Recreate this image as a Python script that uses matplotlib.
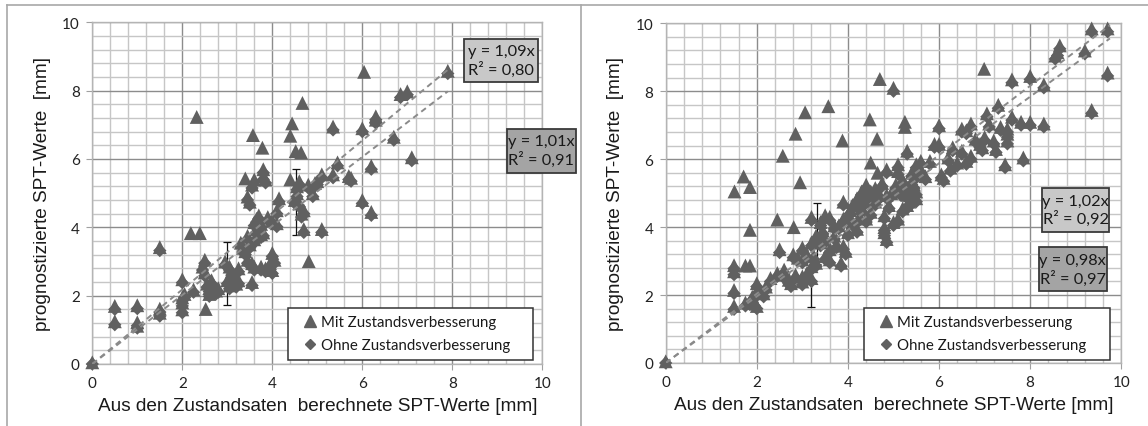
import matplotlib
matplotlib.use("Agg")
import matplotlib.pyplot as plt
from matplotlib.lines import Line2D
from matplotlib.patches import Rectangle
import numpy as np

# ---------------- data ----------------
x_ticks = [0, 2, 4, 6, 8, 10]
y_ticks = [0, 2, 4, 6, 8, 10]
series_names = ["Mit Zustandsverbesserung", "Ohne Zustandsverbesserung"]

# Left panel: "Mit Zustandsverbesserung" (triangles)
left_mit = [
    (0, 0.05), (0.5, 1.7), (0.5, 1.25), (1.0, 1.72), (1.0, 1.22), (1.0, 1.12),
    (1.5, 3.42), (1.5, 1.62), (1.5, 1.5), (2.0, 2.48), (2.0, 1.95), (2.0, 1.8),
    (2.0, 1.6), (2.05, 2.05), (2.25, 2.18), (2.5, 3.05), (2.45, 2.85), (2.5, 2.68),
    (2.55, 2.35), (2.6, 2.22), (2.7, 2.3), (2.75, 2.15), (2.65, 2.45), (2.8, 2.22),
    (2.95, 3.0), (3.05, 2.85), (3.1, 2.7), (3.0, 2.45), (3.2, 2.35), (3.15, 2.6),
    (3.25, 2.8), (3.05, 2.3), (3.45, 3.75), (3.5, 3.5), (3.4, 3.3), (3.45, 3.05),
    (3.55, 2.95), (3.6, 2.85), (3.55, 2.4), (3.55, 5.25), (3.45, 4.9), (3.5, 4.75),
    (3.7, 4.35), (3.6, 4.15), (3.7, 3.95), (3.75, 3.8), (3.6, 3.65), (3.8, 3.85),
    (3.65, 4.25), (3.75, 4.1), (3.8, 5.7), (3.8, 5.5), (3.85, 5.4), (3.75, 2.85),
    (3.85, 2.8), (4.0, 2.75), (3.95, 2.95), (4.0, 3.25), (4.05, 3.05), (4.0, 4.2),
    (4.1, 4.12), (4.1, 4.5), (4.15, 4.85), (4.55, 5.2), (4.55, 5.0), (4.5, 4.8),
    (4.6, 4.7), (4.7, 4.5), (4.65, 4.4), (4.6, 5.35), (4.7, 3.95), (4.8, 5.25),
    (4.9, 5.0), (4.95, 5.3), (5.0, 5.35), (5.1, 3.95), (5.1, 5.55), (5.35, 5.55),
    (5.45, 5.9), (5.7, 5.5), (5.75, 5.45), (5.35, 6.95), (6.0, 6.9), (6.3, 7.15),
    (6.3, 7.25), (6.0, 4.8), (6.2, 4.45), (6.2, 5.8), (6.7, 6.65), (6.85, 7.9),
    (7.0, 7.98), (7.1, 6.05), (7.9, 8.58),
    (3.3, 3.55), (3.35, 3.4), (3.65, 3.95), (3.9, 4.3), (2.6, 2.05), (3.25, 2.45),
    (2.32, 7.23), (6.04, 8.55), (4.67, 7.64), (4.44, 7.04), (4.4, 6.68), (3.57, 6.7),
    (3.78, 6.33), (4.52, 6.23), (4.64, 6.19), (2.19, 3.83), (2.39, 3.83), (4.81, 3.01),
    (2.52, 1.61), (3.4, 5.43), (3.6, 5.4), (4.4, 5.4),
]
# Left panel: "Ohne Zustandsverbesserung" (diamonds)
left_ohne = [
    (0, 0.0), (0.5, 1.6), (0.5, 1.15), (1.0, 1.62), (1.0, 1.12), (1.0, 1.05),
    (1.5, 3.32), (1.5, 1.52), (1.5, 1.4), (2.0, 2.38), (2.0, 1.85), (2.0, 1.7),
    (2.0, 1.5), (2.05, 1.95), (2.25, 2.1), (2.5, 2.95), (2.45, 2.75), (2.5, 2.58),
    (2.55, 2.25), (2.6, 2.12), (2.7, 2.2), (2.75, 2.05), (2.65, 2.35), (2.8, 2.1),
    (2.95, 2.9), (3.05, 2.75), (3.1, 2.6), (3.0, 2.35), (3.2, 2.25), (3.15, 2.5),
    (3.25, 2.7), (3.05, 2.2), (3.45, 3.65), (3.5, 3.4), (3.4, 3.2), (3.45, 2.95),
    (3.55, 2.85), (3.6, 2.75), (3.55, 2.3), (3.55, 5.15), (3.45, 4.8), (3.5, 4.65),
    (3.7, 4.25), (3.6, 4.05), (3.7, 3.85), (3.75, 3.7), (3.6, 3.55), (3.8, 3.75),
    (3.65, 4.15), (3.75, 4.0), (3.8, 5.6), (3.8, 5.4), (3.85, 5.3), (3.75, 2.75),
    (3.85, 2.7), (4.0, 2.65), (3.95, 2.85), (4.0, 3.15), (4.05, 2.95), (4.0, 4.1),
    (4.1, 4.02), (4.1, 4.4), (4.15, 4.75), (4.55, 5.1), (4.55, 4.9), (4.5, 4.7),
    (4.6, 4.6), (4.7, 4.4), (4.65, 4.3), (4.6, 5.25), (4.7, 3.85), (4.8, 5.15),
    (4.9, 4.9), (4.95, 5.2), (5.0, 5.25), (5.1, 3.85), (5.1, 5.45), (5.35, 5.45),
    (5.45, 5.8), (5.7, 5.4), (5.75, 5.35), (5.35, 6.85), (6.0, 6.8), (6.3, 7.05),
    (6.3, 7.15), (6.0, 4.7), (6.2, 4.35), (6.2, 5.7), (6.7, 6.55), (6.85, 7.8),
    (7.0, 7.88), (7.1, 5.95), (7.9, 8.5),
    (3.3, 3.45), (3.35, 3.3), (3.65, 3.85), (3.9, 4.2), (2.6, 1.98), (3.25, 2.35),
]
# Right panel: "Mit Zustandsverbesserung"
right_mit = [
    (0, 0.05), (1.5, 2.88), (1.5, 2.7), (1.5, 2.15), (1.5, 1.68), (1.75, 1.78),
    (1.85, 1.82), (1.95, 1.78), (2.0, 1.68), (2.0, 2.35), (2.0, 2.1), (2.05, 2.2),
    (1.9, 1.95), (2.2, 2.25), (2.15, 2.05), (2.3, 2.5), (2.5, 3.35), (2.45, 2.65),
    (2.6, 2.6), (2.7, 2.45), (2.75, 2.35), (2.8, 3.2), (2.9, 3.1), (3.0, 3.05),
    (3.0, 2.55), (3.0, 2.4), (3.1, 2.65), (3.2, 2.5), (3.2, 4.3), (3.0, 3.4),
    (3.2, 3.55), (3.3, 3.75), (3.1, 3.2), (3.25, 3.15), (3.3, 2.95), (3.2, 2.85),
    (3.4, 4.15), (3.5, 4.35), (3.6, 4.3), (3.5, 3.65), (3.6, 3.35), (3.5, 3.15),
    (3.6, 3.05), (3.7, 3.75), (3.8, 4.05), (3.9, 4.75), (3.9, 4.25), (3.9, 3.45),
    (3.95, 3.3), (3.85, 2.95), (4.0, 4.35), (4.1, 4.15), (4.1, 4.65), (4.2, 4.85),
    (4.3, 4.55), (4.3, 5.05), (4.4, 5.25), (4.5, 5.05), (4.6, 4.75), (4.7, 4.95),
    (4.85, 4.95), (4.85, 5.7), (4.9, 4.65), (4.0, 3.85), (4.2, 3.95), (4.4, 4.25),
    (4.5, 4.45), (4.8, 4.35), (4.8, 3.85), (4.85, 3.65), (4.8, 4.0), (5.0, 4.15),
    (5.1, 4.25), (5.2, 4.55), (5.3, 4.65), (5.3, 4.95), (5.5, 4.85), (5.5, 5.05),
    (5.0, 8.1), (5.1, 5.85), (5.1, 5.65), (5.2, 5.4), (5.3, 5.15), (5.4, 5.35),
    (5.5, 5.55), (5.3, 6.25), (5.5, 5.85), (5.6, 5.95), (5.8, 5.95), (5.9, 6.45),
    (6.0, 6.45), (6.0, 7.0), (6.05, 5.55), (6.1, 5.45), (6.3, 6.35), (6.4, 5.9),
    (6.5, 6.25), (6.5, 6.9), (6.6, 6.85), (6.6, 5.95), (6.7, 6.1), (6.7, 7.05),
    (6.9, 6.45), (6.95, 6.35), (7.0, 6.65), (7.05, 7.35), (7.1, 7.05), (7.2, 6.55),
    (7.25, 6.3), (7.3, 7.6), (7.45, 5.85), (7.5, 6.55), (7.5, 6.75), (7.5, 6.9),
    (7.6, 7.25), (7.8, 7.1), (8.0, 7.1), (8.3, 7.05), (7.85, 6.05), (7.6, 8.35),
    (8.0, 8.45), (8.3, 8.2), (8.55, 9.05), (8.65, 9.35), (8.6, 9.15), (9.2, 9.2),
    (9.35, 9.85), (9.7, 9.85), (9.7, 8.55), (9.35, 7.45),
    (2.6, 2.75), (2.85, 2.6), (3.4, 3.55), (3.45, 3.9), (3.7, 4.05), (3.75, 3.5),
    (4.05, 4.5), (4.25, 4.3), (4.35, 4.75), (4.45, 4.95), (4.6, 5.15), (4.75, 5.3),
    (4.95, 5.0), (5.05, 5.25), (5.15, 5.05), (5.4, 5.6), (5.6, 5.7), (5.7, 5.5),
    (5.35, 4.75), (5.45, 5.25), (6.2, 6.05), (6.25, 5.75), (6.8, 6.6), (7.35, 6.95),
    (1.51, 5.05), (1.71, 5.49), (1.85, 5.18), (1.85, 3.92), (1.75, 2.87), (1.85, 2.87),
    (2.45, 4.22), (2.57, 6.1), (2.81, 4.0), (2.85, 6.75), (2.95, 5.32), (3.06, 7.38),
    (3.57, 7.56), (3.88, 6.55), (4.7, 8.36), (4.48, 7.17), (4.64, 6.6), (5.25, 7.1),
    (5.25, 6.95), (6.99, 8.66), (4.5, 5.9), (4.65, 5.6),
]
# Right panel: "Ohne Zustandsverbesserung"
right_ohne = [
    (0, 0.0), (1.5, 2.78), (1.5, 2.6), (1.5, 2.05), (1.5, 1.58), (1.75, 1.68),
    (1.85, 1.72), (1.95, 1.68), (2.0, 1.6), (2.0, 2.25), (2.0, 2.0), (2.05, 2.1),
    (1.9, 1.85), (2.2, 2.15), (2.15, 1.95), (2.3, 2.4), (2.5, 3.25), (2.45, 2.55),
    (2.6, 2.5), (2.7, 2.35), (2.75, 2.25), (2.8, 3.1), (2.9, 3.0), (3.0, 2.95),
    (3.0, 2.45), (3.0, 2.3), (3.1, 2.55), (3.2, 2.4), (3.2, 4.2), (3.0, 3.3),
    (3.2, 3.45), (3.3, 3.65), (3.1, 3.1), (3.25, 3.05), (3.3, 2.85), (3.2, 2.75),
    (3.4, 4.05), (3.5, 4.25), (3.6, 4.2), (3.5, 3.55), (3.6, 3.25), (3.5, 3.05),
    (3.6, 2.95), (3.7, 3.65), (3.8, 3.95), (3.9, 4.65), (3.9, 4.15), (3.9, 3.35),
    (3.95, 3.2), (3.85, 2.85), (4.0, 4.25), (4.1, 4.05), (4.1, 4.55), (4.2, 4.75),
    (4.3, 4.45), (4.3, 4.95), (4.4, 5.15), (4.5, 4.95), (4.6, 4.65), (4.7, 4.85),
    (4.85, 4.85), (4.85, 5.6), (4.9, 4.55), (4.0, 3.75), (4.2, 3.85), (4.4, 4.15),
    (4.5, 4.35), (4.8, 4.25), (4.8, 3.75), (4.85, 3.55), (4.8, 3.9), (5.0, 4.05),
    (5.1, 4.15), (5.2, 4.45), (5.3, 4.55), (5.3, 4.85), (5.5, 4.75), (5.5, 4.95),
    (5.0, 8.0), (5.1, 5.75), (5.1, 5.55), (5.2, 5.3), (5.3, 5.05), (5.4, 5.25),
    (5.5, 5.45), (5.3, 6.15), (5.5, 5.75), (5.6, 5.85), (5.8, 5.85), (5.9, 6.35),
    (6.0, 6.35), (6.0, 6.9), (6.05, 5.45), (6.1, 5.35), (6.3, 6.25), (6.4, 5.8),
    (6.5, 6.15), (6.5, 6.8), (6.6, 6.75), (6.6, 5.85), (6.7, 6.0), (6.7, 6.95),
    (6.9, 6.35), (6.95, 6.25), (7.0, 6.55), (7.05, 7.25), (7.1, 6.95), (7.2, 6.45),
    (7.25, 6.2), (7.3, 7.5), (7.45, 5.75), (7.5, 6.45), (7.5, 6.65), (7.5, 6.8),
    (7.6, 7.15), (7.8, 7.0), (8.0, 7.0), (8.3, 6.95), (7.85, 5.95), (7.6, 8.25),
    (8.0, 8.35), (8.3, 8.1), (8.55, 8.95), (8.65, 9.25), (8.6, 9.05), (9.2, 9.1),
    (9.35, 9.75), (9.7, 9.75), (9.7, 8.45), (9.35, 7.35),
    (2.6, 2.65), (2.85, 2.5), (3.4, 3.45), (3.45, 3.8), (3.7, 3.95), (3.75, 3.4),
    (4.05, 4.4), (4.25, 4.2), (4.35, 4.65), (4.45, 4.85), (4.6, 5.05), (4.75, 5.2),
    (4.95, 4.9), (5.05, 5.15), (5.15, 4.95), (5.4, 5.5), (5.6, 5.6), (5.7, 5.4),
    (5.35, 4.65), (5.45, 5.15), (6.2, 5.95), (6.25, 5.65), (6.8, 6.5), (7.35, 6.85),
]

# trend lines (slope, R²)
left_fits = [("1,09", 1.09, "0,80"), ("1,01", 1.01, "0,91")]
right_fits = [("1,02", 1.02, "0,92"), ("0,98", 0.98, "0,97")]
left_fit_xmax = 7.9
right_fit_xmax = 9.75

# error bars: (x, y, lower, upper)
left_errs = [(3.0, 2.65, 1.72, 3.58), (4.52, 4.75, 3.78, 5.72)]
right_errs = [(3.33, 3.6, 2.9, 4.72), (3.2, 2.6, 1.66, 3.0)]

xlabel = "Aus den Zustandsaten  berechnete SPT-Werte [mm]"
ylabel = "prognostizierte SPT-Werte  [mm]"

# ---------------- style ----------------
W, H = 1148, 427
MCOL = "#606060"
TICKFONT = "Lato"
LABFONT = "Liberation Sans"

fig = plt.figure(figsize=(W / 100, H / 100), dpi=100)


def fx(px):
    return px / W


def fy(py):
    return 1 - py / H


# outer frame lines
frame_col = "#a8a8a8"
fig.add_artist(Line2D([fx(7), 1.0], [fy(5.5), fy(5.5)], transform=fig.transFigure, color=frame_col, lw=1.2))
fig.add_artist(Line2D([fx(7), fx(7)], [fy(5.5), 0], transform=fig.transFigure, color=frame_col, lw=1.2))
fig.add_artist(Line2D([fx(581), fx(581)], [fy(5.5), 0], transform=fig.transFigure, color=frame_col, lw=1.2))


def make_axes(l, r, t, b):
    ax = fig.add_axes([fx(l), fy(b), fx(r - l), (b - t) / H])
    ax.set_xlim(0, 10)
    ax.set_ylim(0, 10)
    ax.set_xticks(x_ticks)
    ax.set_yticks(y_ticks)
    ax.set_xticks(np.arange(0, 10.01, 0.4), minor=True)
    ax.set_yticks(np.arange(0, 10.01, 0.4), minor=True)
    ax.grid(which="minor", color="#c6c6c6", lw=1.0)
    ax.grid(which="major", color="#8c8c8c", lw=1.0)
    ax.set_axisbelow(True)
    for s in ax.spines.values():
        s.set_color("#b4b4b4")
        s.set_linewidth(1.0)
    ax.tick_params(which="major", length=4, color="#a0a0a0", labelsize=11,
                   labelcolor="#222222", pad=5)
    ax.tick_params(which="minor", length=0)
    for lab in ax.get_xticklabels() + ax.get_yticklabels():
        lab.set_fontfamily(TICKFONT)
    ax.set_xlabel(xlabel, fontfamily=LABFONT, fontsize=13.7, color="#1a1a1a", labelpad=5)
    ax.set_ylabel(ylabel, fontfamily=LABFONT, fontsize=13.7, color="#1a1a1a", labelpad=8)
    return ax


def draw(ax, mit, ohne, fits, fit_xmax, errs):
    mx, my = zip(*mit)
    ox, oy = zip(*ohne)
    for x, y, lo, hi in errs:
        ax.errorbar([x], [y], yerr=[[y - lo], [hi - y]], fmt="none", ecolor="#111111",
                    elinewidth=0.9, capsize=3, capthick=0.9, zorder=2.5)
    ax.scatter(mx, my, marker="^", s=100, color=MCOL, edgecolors="none", zorder=3, clip_on=False)
    ax.scatter(ox, oy, marker="D", s=46, color=MCOL, edgecolors="none", zorder=3, clip_on=False)
    for _, slope, _ in fits:
        ax.plot([0, fit_xmax], [0, slope * fit_xmax], ls=(0, (3, 2.2)), color="#8a8a8a",
                lw=1.4, zorder=4)


def fit_box(ax, x0, x1, y0, y1, fit, fc):
    label, _, r2 = fit
    ax.add_patch(Rectangle((x0, y0), x1 - x0, y1 - y0, facecolor=fc, edgecolor="#3a3a3a",
                           lw=1.3, clip_on=False, zorder=6))
    ax.text((x0 + x1) / 2, (y0 + y1) / 2, "y = %sx\nR² = %s" % (label, r2), ha="center",
            va="center", fontsize=11.8, fontfamily=TICKFONT, color="#1a1a1a",
            linespacing=1.2, zorder=7, clip_on=False)


def legend_box(l, r, t, b, marker_x):
    fig.add_artist(Rectangle((fx(l), fy(b)), fx(r - l), (b - t) / H, transform=fig.transFigure,
                             facecolor="white", edgecolor="#333333", lw=1.1, zorder=8))
    handles = [Line2D([], [], marker="^", ls="none", color=MCOL, markersize=8.5),
               Line2D([], [], marker="D", ls="none", color=MCOL, markersize=5.5)]
    leg = fig.legend(handles, series_names, loc="center left",
                     bbox_to_anchor=(fx(marker_x - 14), fy((t + b) / 2)),
                     frameon=False, handlelength=1.0, handletextpad=0.25,
                     labelspacing=0.6, borderpad=0, borderaxespad=0,
                     prop={"family": TICKFONT, "size": 10.8})
    leg.set_zorder(9)
    for txt in leg.get_texts():
        txt.set_color("#1a1a1a")


axL = make_axes(92.3, 542.3, 23.3, 365.0)
draw(axL, left_mit, left_ohne, left_fits, left_fit_xmax, left_errs)
fit_box(axL, 8.27, 9.9, 8.25, 9.5, left_fits[0], "#c8c8c8")
fit_box(axL, 9.21, 10.75, 5.6, 6.88, left_fits[1], "#a4a4a4")
legend_box(288, 533, 309, 361, 316)

axR = make_axes(665.7, 1121.3, 24.3, 364.0)
draw(axR, right_mit, right_ohne, right_fits, right_fit_xmax, right_errs)
fit_box(axR, 8.26, 9.73, 3.86, 5.15, right_fits[0], "#c8c8c8")
fit_box(axR, 8.19, 9.68, 2.12, 3.41, right_fits[1], "#a4a4a4")
legend_box(864, 1110, 309, 361, 892)

fig.savefig("out.png", dpi=100, facecolor="white")
